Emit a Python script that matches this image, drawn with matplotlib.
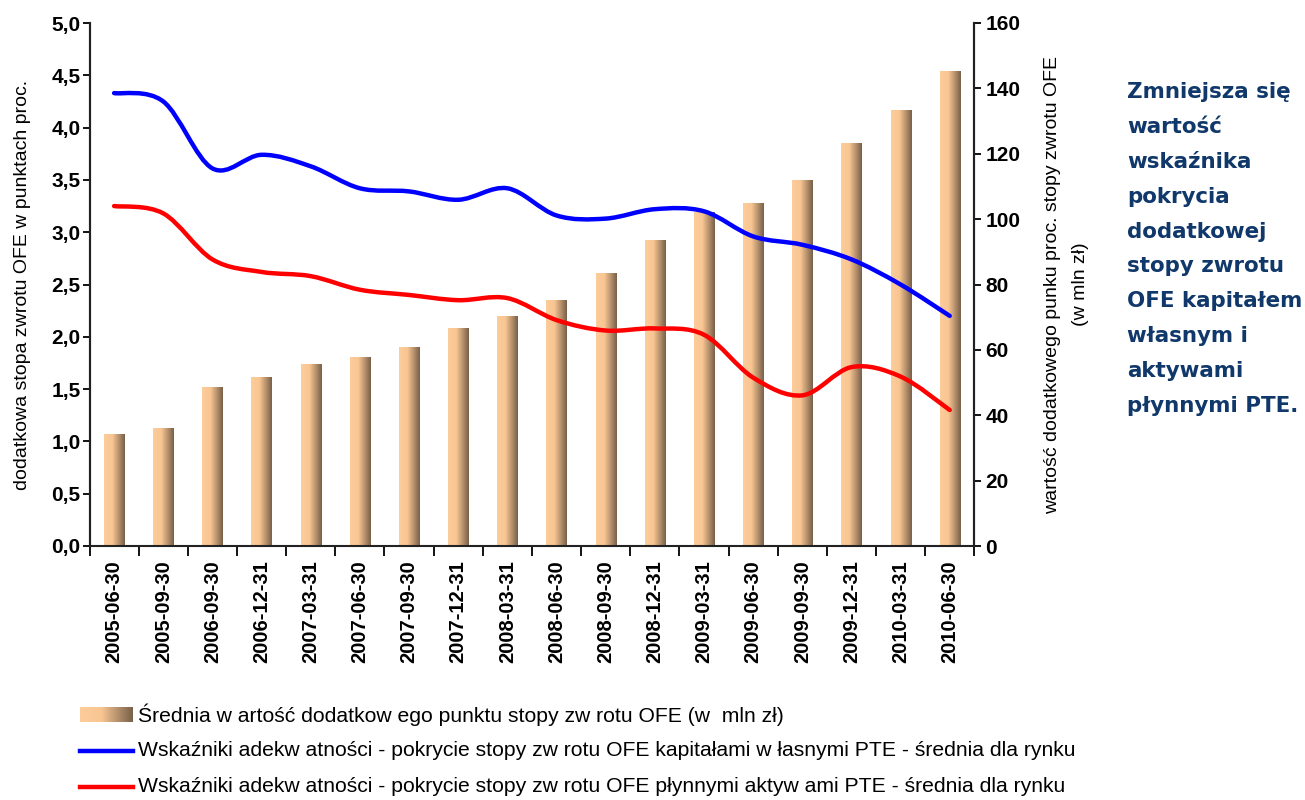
import numpy as np
import matplotlib
matplotlib.use('Agg')
import matplotlib.pyplot as plt
from matplotlib.path import Path
from matplotlib.patches import PathPatch
from matplotlib.colors import LinearSegmentedColormap
from matplotlib.lines import Line2D

plt.rcParams['font.family'] = ['Liberation Sans', 'DejaVu Sans']

# data
dates = ['2005-06-30', '2005-09-30', '2006-09-30', '2006-12-31', '2007-03-31',
         '2007-06-30', '2007-09-30', '2007-12-31', '2008-03-31', '2008-06-30',
         '2008-09-30', '2008-12-31', '2009-03-31', '2009-06-30', '2009-09-30',
         '2009-12-31', '2010-03-31', '2010-06-30']
avg_value = [34.0, 35.9, 48.4, 51.5, 55.5, 57.6, 60.7, 66.5, 70.2, 75.1,
             83.4, 93.5, 101.9, 104.9, 111.9, 123.2, 133.3, 145.3]
cov_capital = [4.33, 4.25, 3.61, 3.74, 3.63, 3.42, 3.39, 3.31, 3.42, 3.16,
               3.13, 3.22, 3.20, 2.96, 2.88, 2.74, 2.50, 2.20]
cov_liquid = [3.25, 3.18, 2.74, 2.62, 2.58, 2.45, 2.40, 2.35, 2.37, 2.16,
              2.06, 2.08, 2.02, 1.61, 1.44, 1.71, 1.62, 1.30]

lbl_bar = 'Średnia w artość dodatkow ego punktu stopy zw rotu OFE (w  mln zł)'
lbl_blue = 'Wskaźniki adekw atności - pokrycie stopy zw rotu OFE kapitałami w łasnymi PTE - średnia dla rynku'
lbl_red = 'Wskaźniki adekw atności - pokrycie stopy zw rotu OFE płynnymi aktyw ami PTE - średnia dla rynku'
note = 'Zmniejsza się\nwartość\nwskaźnika\npokrycia\ndodatkowej\nstopy zwrotu\nOFE kapitałem\nwłasnym i\naktywami\npłynnymi PTE.'

grad_cmap = LinearSegmentedColormap.from_list(
    'barg', [(0, '#fccc9a'), (0.4, '#f9c693'), (1, '#79614a')])
grad = np.linspace(0, 1, 64).reshape(1, -1)


def smooth_path(xs, ys):
    # bezier smoothing like a spreadsheet "smoothed line"
    pts = np.column_stack([xs, ys])
    n = len(pts)
    verts = [pts[0]]
    codes = [Path.MOVETO]
    for i in range(n - 1):
        p0 = pts[max(i - 1, 0)]
        p1 = pts[i]
        p2 = pts[i + 1]
        p3 = pts[min(i + 2, n - 1)]
        verts += [p1 + (p2 - p0) / 6, p2 - (p3 - p1) / 6, p2]
        codes += [Path.CURVE4] * 3
    return Path(verts, codes)


fig = plt.figure(figsize=(13.05, 8), dpi=100)
ax2 = fig.add_axes([0.0686, 0.3175, 0.678, 0.65375])
ax1 = ax2.twinx()
# lines on top of bars, left axis for lines
ax2.yaxis.tick_right()
ax2.yaxis.set_label_position('right')
ax1.yaxis.tick_left()
ax1.yaxis.set_label_position('left')
ax1.set_zorder(ax2.get_zorder() + 1)
ax1.patch.set_visible(False)

x = np.arange(len(dates))
bars = ax2.bar(x, avg_value, width=0.41, color='none', edgecolor='none')
for b in bars:
    x0, y0 = b.get_x(), b.get_y()
    ax2.imshow(grad, extent=[x0, x0 + b.get_width(), y0, y0 + b.get_height()],
               aspect='auto', cmap=grad_cmap, interpolation='bilinear', zorder=2)
ax2.set_xlim(-0.5, len(dates) - 0.5)
ax2.set_ylim(0, 160)
ax2.set_yticks(np.arange(0, 161, 20))

ax1.add_patch(PathPatch(smooth_path(x, cov_capital), fill=False, ec='#0000ff', lw=3.2,
                        capstyle='round', joinstyle='round'))
ax1.add_patch(PathPatch(smooth_path(x, cov_liquid), fill=False, ec='#ff0000', lw=3.2,
                        capstyle='round', joinstyle='round'))
ax1.set_ylim(0, 5)
yt = np.arange(0, 5.01, 0.5)
ax1.set_yticks(yt, [f'{v:.1f}'.replace('.', ',') for v in yt])

# category axis: ticks at boundaries, labels in the middle
ax2.set_xticks(np.arange(len(dates) + 1) - 0.5, [])
ax2.set_xticks(x, dates, minor=True, rotation=90, fontsize=14.5, fontweight='bold')
ax2.tick_params(axis='x', which='major', length=7, width=1.3, direction='out')
ax2.tick_params(axis='x', which='minor', length=0, pad=10)

for a in (ax1, ax2):
    a.spines['top'].set_visible(False)
    for s in ('left', 'right', 'bottom'):
        a.spines[s].set_linewidth(1.5)
        a.spines[s].set_color('#222222')
ax1.spines['bottom'].set_visible(False)
ax1.tick_params(axis='y', length=5, width=1.3, labelsize=15, pad=1.5)
ax2.tick_params(axis='y', length=5, width=1.3, labelsize=15, pad=3)
for t in ax1.get_yticklabels() + ax2.get_yticklabels():
    t.set_fontweight('bold')

ax1.set_ylabel('dodatkowa stopa zwrotu OFE w punktach proc.', fontsize=14)
ax1.yaxis.set_label_coords(-0.066, 0.5)
ax2.set_ylabel('wartość dodatkowego punku proc. stopy zwrotu OFE\n(w mln zł)',
               fontsize=14, rotation=90, linespacing=1.8)
ax2.yaxis.set_label_coords(1.079, 0.5)

# legend drawn below the plot
sw = fig.add_axes([80 / 1305, 1 - 722 / 800, 53 / 1305, 15 / 800])
sw.imshow(grad, aspect='auto', cmap=grad_cmap, interpolation='bilinear')
sw.axis('off')
for yy, col in ((751, '#0000ff'), (787, '#ff0000')):
    fig.add_artist(Line2D([80 / 1305, 133 / 1305], [1 - yy / 800] * 2, color=col, lw=3.2))
for yy, txt in ((715, lbl_bar), (751, lbl_blue), (787, lbl_red)):
    fig.text(138 / 1305, 1 - yy / 800, txt, fontsize=15.2, va='center', ha='left')

fig.text(1127 / 1305, 1 - 82 / 800, note, fontsize=15.4, fontweight='bold',
         color='#10386a', family=['DejaVu Sans'], va='top', ha='left', linespacing=1.93)

fig.savefig('out.png', dpi=100)
